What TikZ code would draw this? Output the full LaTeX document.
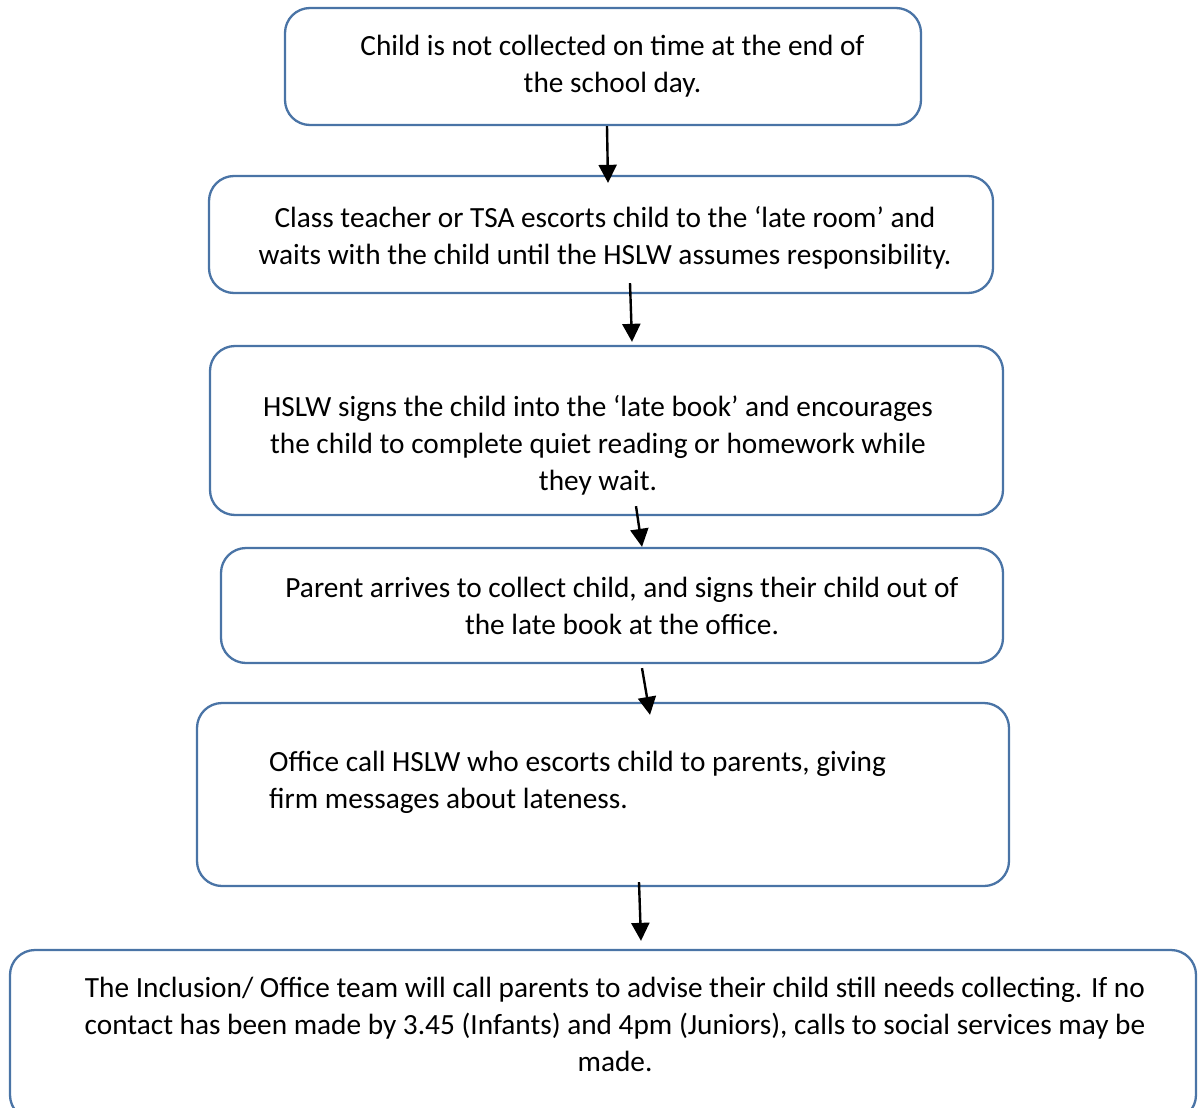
\documentclass[tikz,border=0pt]{standalone}
\usepackage{fontspec}
\setmainfont{Carlito}
\usetikzlibrary{arrows.meta,calc}
\definecolor{boxblue}{HTML}{4A74A6}
\tikzset{
  flowbox/.style={draw=boxblue, line width=2.3pt, rounded corners=25pt, inner sep=0pt},
  flowtext/.style={align=center, inner sep=0pt, font=\fontsize{29.3pt}{37pt}\selectfont},
  flowarrow/.style={draw=black, line width=2.4pt, -{Triangle[length=18pt,width=18pt]}}
}
\begin{document}
\begin{tikzpicture}[x=1pt,y=-1pt]
\useasboundingbox (0,0) rectangle (1202,1108);
% boxes
\node[flowbox, minimum width=636pt, minimum height=117pt] (b1) at (603,66.5) {};
\node[flowbox, minimum width=784pt, minimum height=117pt] (b2) at (601,234.5) {};
\node[flowbox, minimum width=793pt, minimum height=169pt] (b3) at (606.5,430.5) {};
\node[flowbox, minimum width=782pt, minimum height=115pt] (b4) at (612,605.5) {};
\node[flowbox, minimum width=812pt, minimum height=183pt] (b5) at (603,794.5) {};
\node[flowbox, minimum width=1186pt, minimum height=170pt] (b6) at (603,1035) {};
% texts
\node[flowtext] (t1) at (612.5,66) {Child is not collected on time at the end of\\the school day.};
\node[flowtext] (t2) at (605,237.5) {Class teacher or TSA escorts child to the ‘late room’ and\\waits with the child until the HSLW assumes responsibility.};
\node[flowtext] (t3) at (598,445) {HSLW signs the child into the ‘late book’ and encourages\\the child to complete quiet reading or homework while\\they wait.};
\node[flowtext] (t4) at (622,605.5) {Parent arrives to collect child, and signs their child out of\\the late book at the office.};
\node[flowtext, align=left, anchor=west] (t5) at (269,782.5) {Office call HSLW who escorts child to parents, giving\\firm messages about lateness.};
\node[flowtext] (t6) at (615,1024.5) {The Inclusion/ Office team will call parents to advise their child still needs collecting. If no\\contact has been made by 3.45 (Infants) and 4pm (Juniors), calls to social services may be\\made.};
% arrow end points
\coordinate (a1s) at ($(b1.south)+(4,0)$);
\coordinate (a1e) at ($(b2.north)+(7,8)$);
\coordinate (a2s) at ($(b2.south)+(29,-11)$);
\coordinate (a2e) at ($(b3.north)+(25.5,-3)$);
\coordinate (a3s) at ($(b3.south)+(29.5,-10)$);
\coordinate (a3e) at ($(b4.north)+(30,0)$);
\coordinate (a4s) at ($(b4.south)+(30,4)$);
\coordinate (a4e) at ($(b5.north)+(47,13)$);
\coordinate (a5s) at ($(b5.south)+(36,-5)$);
\coordinate (a5e) at ($(b6.north)+(38,-8)$);
\draw[flowarrow] (a1s) -- (a1e);
\draw[flowarrow] (a2s) -- (a2e);
\draw[flowarrow] (a3s) -- (a3e);
\draw[flowarrow] (a4s) -- (a4e);
\draw[flowarrow] (a5s) -- (a5e);
\end{tikzpicture}
\end{document}
